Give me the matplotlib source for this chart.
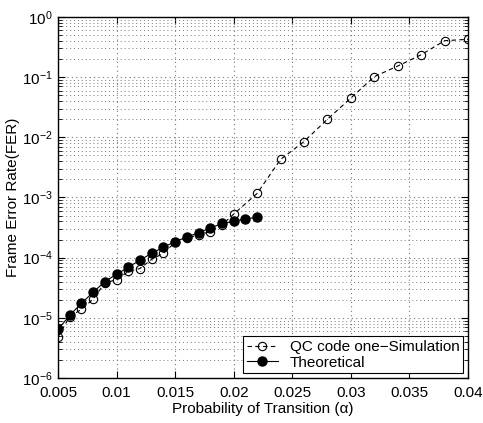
import matplotlib
matplotlib.use("Agg")
import matplotlib.pyplot as plt
from matplotlib.ticker import LogLocator, NullFormatter, FixedLocator, LogFormatterSciNotation

plt.rcParams['font.family'] = ['Liberation Sans', 'DejaVu Sans']

sim_x = [0.005, 0.006, 0.007, 0.008, 0.009, 0.010, 0.011, 0.012, 0.013, 0.014,
         0.015, 0.016, 0.017, 0.018, 0.019, 0.020, 0.022, 0.024, 0.026, 0.028,
         0.030, 0.032, 0.034, 0.036, 0.038, 0.040]
sim_y = [4.8e-6, 1.05e-5, 1.38e-5, 2.05e-5, 3.8e-5, 4.3e-5, 5.9e-5, 6.6e-5, 9.4e-5, 1.18e-4,
         1.8e-4, 2.1e-4, 2.4e-4, 2.7e-4, 3.5e-4, 5.3e-4, 1.17e-3, 4.3e-3, 8.5e-3, 2.0e-2,
         4.5e-2, 1.02e-1, 1.53e-1, 2.36e-1, 4.04e-1, 4.26e-1]

th_x = [0.005, 0.006, 0.007, 0.008, 0.009, 0.010, 0.011, 0.012, 0.013, 0.014,
        0.015, 0.016, 0.017, 0.018, 0.019, 0.020, 0.021, 0.022]
th_y = [6.4e-6, 1.1e-5, 1.74e-5, 2.66e-5, 4.0e-5, 5.3e-5, 6.9e-5, 9.1e-5, 1.18e-4, 1.49e-4,
        1.85e-4, 2.2e-4, 2.6e-4, 3.1e-4, 3.7e-4, 4.0e-4, 4.4e-4, 4.7e-4]

xticks = [0.005, 0.01, 0.015, 0.02, 0.025, 0.03, 0.035, 0.04]
xticklabels = ['0.005', '0.01', '0.015', '0.02', '0.025', '0.03', '0.035', '0.04']
yticks = [1e-6, 1e-5, 1e-4, 1e-3, 1e-2, 1e-1, 1e0]

fig = plt.figure(figsize=(4.83, 4.23), dpi=100)
ax = fig.add_axes([0.120, 0.1064, 0.849, 0.8534])

ax.semilogy(sim_x, sim_y, linestyle=(0, (4, 3)), color='black', linewidth=0.8,
            marker='o', markersize=6, markerfacecolor='none', markeredgecolor='black',
            markeredgewidth=0.8, label='QC code one\u2212Simulation')
ax.semilogy(th_x, th_y, linestyle='-', color='black', linewidth=0.8,
            marker='o', markersize=6.5, markerfacecolor='black', markeredgecolor='black',
            label='Theoretical')

ax.set_xlim(0.005, 0.04)
ax.set_ylim(1e-6, 1)
ax.xaxis.set_major_locator(FixedLocator(xticks))
ax.set_xticklabels(xticklabels)
ax.yaxis.set_major_locator(FixedLocator(yticks))
ax.yaxis.set_major_formatter(LogFormatterSciNotation())
ax.yaxis.set_minor_locator(LogLocator(base=10, subs=range(2, 10), numticks=20))
ax.yaxis.set_minor_formatter(NullFormatter())

ax.grid(True, which='major', linestyle=(0, (1, 3)), color='#777777', linewidth=0.8)
ax.grid(True, which='minor', axis='y', linestyle=(0, (1, 3)), color='#777777', linewidth=0.7)

ax.tick_params(which='both', direction='in', top=True, right=True, labelsize=11)
ax.tick_params(axis='x', pad=6)
ax.tick_params(axis='y', pad=4)
ax.tick_params(which='major', length=5)
ax.tick_params(which='minor', length=3)
for s in ax.spines.values():
    s.set_linewidth(1.0)

ax.set_xlabel('Probability of Transition (\u03b1)', fontsize=11, labelpad=1)
ax.set_ylabel('Frame Error Rate(FER)', fontsize=11, labelpad=1)

leg = ax.legend(loc='lower right', fontsize=11, frameon=True, fancybox=False,
                edgecolor='black', framealpha=1, borderaxespad=0.3,
                handlelength=2.0, borderpad=0.25, labelspacing=0.1)
leg.get_frame().set_linewidth(0.8)

fig.savefig('out.png', dpi=100)
